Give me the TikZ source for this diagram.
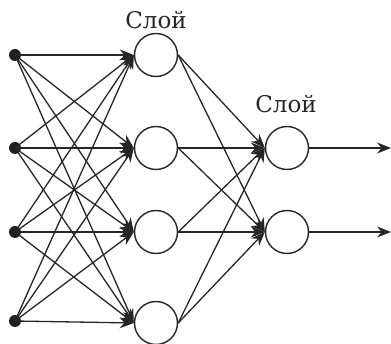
\documentclass[tikz,border=0pt]{standalone}
\usepackage{fontspec}
\setmainfont{DejaVu Serif}
\usetikzlibrary{arrows.meta}
\begin{document}
\begin{tikzpicture}[x=1pt,y=-1pt,
  neuron/.style={circle,draw=black!85,line width=1.4pt,minimum size=43pt,inner sep=0pt},
  inp/.style={circle,fill=black!88,minimum size=12pt,inner sep=0pt},
  link/.style={draw=black!85,line width=1.3pt,-{Stealth[length=14pt,width=11pt]}},
  lbl/.style={font=\fontsize{23}{26}\selectfont,text=black!85}]
\useasboundingbox (0,0) rectangle (391,344);
% input points
\foreach \i/\y in {1/55,2/148,3/232,4/321}
  \node[inp] (x\i) at (15,\y) {};
% hidden layer
\foreach \i/\y in {1/55,2/148,3/232,4/323}
  \node[neuron] (h\i) at (156,\y) {};
% output layer
\foreach \i/\y in {1/148,2/232}
  \node[neuron] (o\i) at (287,\y) {};
\node[lbl] (t1) at (156,20) {Слой};
\node[lbl] (t2) at (286,104) {Слой};
% connections
\foreach \i in {1,...,4}
  \foreach \j in {1,...,4}
    \draw[link] (x\i.center) -- (h\j.west);
\foreach \i in {1,...,4}
  \foreach \j in {1,2}
    \draw[link] (h\i.east) -- (o\j.west);
\coordinate (e1) at (391,148);
\coordinate (e2) at (391,232);
\draw[link] (o1.east) -- (e1);
\draw[link] (o2.east) -- (e2);
\end{tikzpicture}
\end{document}
